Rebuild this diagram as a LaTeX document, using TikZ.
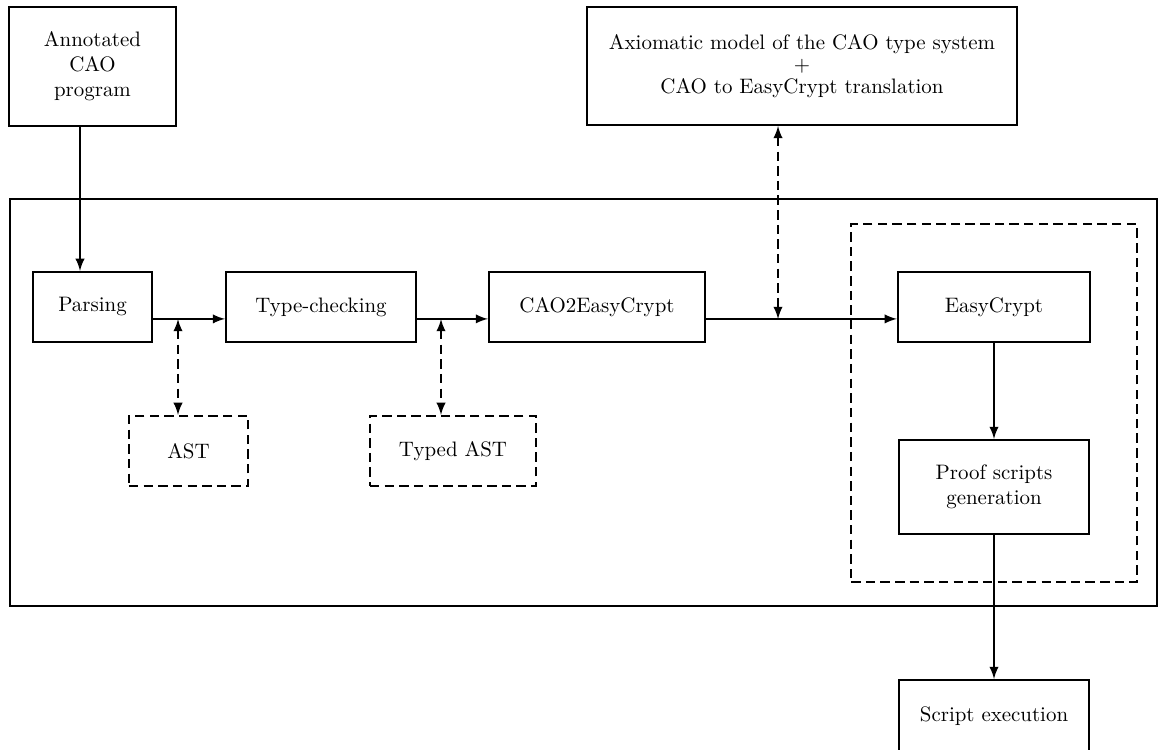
\documentclass[tikz,border=0pt]{standalone}
\usepackage{amsmath}
\usepackage{tikz}
\usetikzlibrary{arrows,shapes,positioning,calc}
\tikzset{
    blk/.style={draw,rectangle,line width=1pt,align=center,inner sep=2pt},
    dblk/.style={draw,rectangle,dash pattern=on 4.5pt off 2.5pt,line width=1pt,align=center,inner sep=2pt},
    line/.style={-latex,line width=1pt},
    dline/.style={latex-latex,dash pattern=on 4.5pt off 2.5pt,line width=1pt},
}
\begin{document}
\begin{tikzpicture}[x=0.0168cm,y=-0.0168cm]
                \useasboundingbox (0,0) rectangle (1160,749);
                \node[blk,minimum width=19.27cm,minimum height=6.84cm] (tool) at (583.5,402.5) {};
                \node[dblk,minimum width=4.80cm,minimum height=6.01cm] (ecbox) at (994,403) {};
                \node[blk,minimum width=2.81cm,minimum height=2.0cm] (annot) at (92.5,66.5) {Annotated\\CAO\\program};
                \node[blk,minimum width=7.22cm,minimum height=1.98cm] (axiom) at (802,66) {Axiomatic model of the CAO type system\\[-1.5pt]$+$\\[-1.5pt]CAO to EasyCrypt translation};
                \node[blk,minimum width=2.0cm,minimum height=1.18cm] (parse) at (92.5,307) {Parsing};
                \node[blk,minimum width=3.19cm,minimum height=1.18cm] (tcheck) at (321,307) {Type-checking};
                \node[blk,minimum width=3.63cm,minimum height=1.18cm] (cao) at (597,307) {CAO2EasyCrypt};
                \node[blk,minimum width=3.23cm,minimum height=1.18cm] (ec) at (994,307) {EasyCrypt};
                \node[blk,minimum width=3.19cm,minimum height=1.58cm] (proof) at (994,487) {Proof scripts\\generation};
                \node[blk,minimum width=3.19cm,minimum height=1.21cm] (exec) at (994,716) {Script execution};
                \node[dblk,minimum width=2.0cm,minimum height=1.18cm] (ast) at (188.5,451) {AST};
                \node[dblk,minimum width=2.79cm,minimum height=1.18cm] (tast) at (453,451) {Typed AST};
                \coordinate (j1) at (178,319);
                \coordinate (j2) at (441,319);
                \coordinate (j3) at (778,319);
                \draw[line] ([xshift=-0.21cm]annot.south) -- ([xshift=-0.21cm]parse.north);
                \draw[line] ([yshift=-0.2cm]parse.east) -- ([yshift=-0.2cm]tcheck.west);
                \draw[line] ([yshift=-0.2cm]tcheck.east) -- ([yshift=-0.2cm]cao.west);
                \draw[line] ([yshift=-0.2cm]cao.east) -- ([yshift=-0.2cm]ec.west);
                \draw[line] (ec) -- (proof);
                \draw[line] (proof) -- (exec);
                \draw[dline] (j1) -- (j1 |- ast.north);
                \draw[dline] (j2) -- (j2 |- tast.north);
                \draw[dline] (j3 |- axiom.south) -- (j3);
            \end{tikzpicture}
\end{document}
